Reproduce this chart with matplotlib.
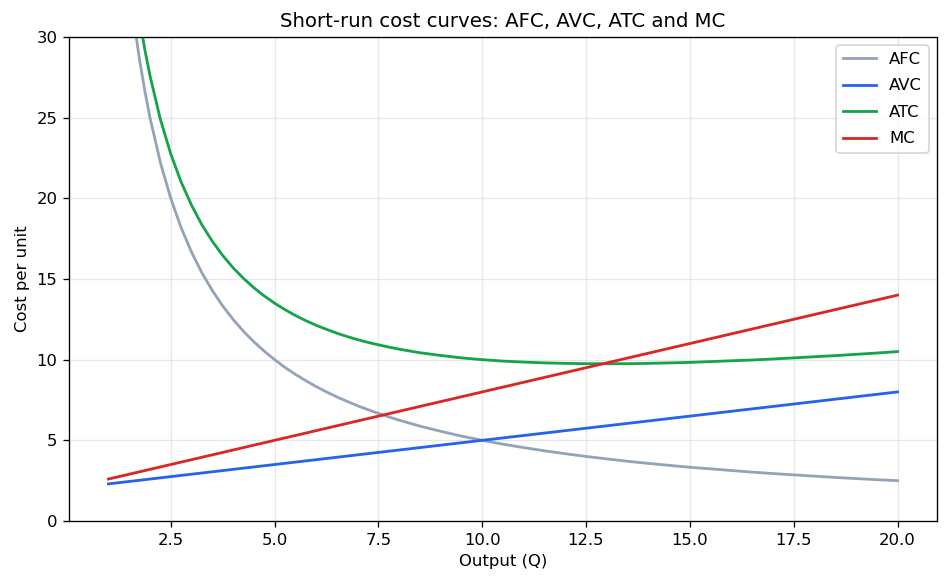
import matplotlib
matplotlib.use("Agg")
import matplotlib.pyplot as plt

Q = [1, 1.25, 1.5, 1.625, 1.75, 1.875, 2, 2.25, 2.5, 2.75, 3, 3.25, 3.5, 3.75, 4,
     4.25, 4.5, 4.75, 5, 5.25, 5.5, 5.75, 6, 6.25, 6.5, 6.75, 7, 7.25, 7.5, 7.75, 8,
     8.5, 9, 9.5, 10, 10.5, 11, 11.5, 12, 12.5, 13, 13.5, 14, 14.5, 15, 15.5, 16,
     16.5, 17, 17.5, 18, 18.5, 19, 19.5, 20]
AFC = [50, 40, 33.33, 30.77, 28.57, 26.67, 25, 22.22, 20, 18.18, 16.67, 15.38, 14.29,
       13.33, 12.5, 11.76, 11.11, 10.53, 10, 9.52, 9.09, 8.70, 8.33, 8.0, 7.69, 7.41,
       7.14, 6.90, 6.67, 6.45, 6.25,
       5.88, 5.56, 5.26, 5.0, 4.76, 4.55, 4.35, 4.17, 4.0, 3.85, 3.70, 3.57, 3.45, 3.33,
       3.23, 3.13, 3.03, 2.94, 2.86, 2.78, 2.70, 2.63, 2.56, 2.5]
AVC = [2.3, 2.375, 2.45, 2.4875, 2.525, 2.5625, 2.6, 2.675, 2.75, 2.825, 2.9, 2.975,
       3.05, 3.125, 3.2, 3.275, 3.35, 3.425, 3.5, 3.575, 3.65, 3.725, 3.8, 3.875, 3.95,
       4.025, 4.1, 4.175, 4.25, 4.325, 4.4,
       4.55, 4.7, 4.85, 5.0, 5.15, 5.3, 5.45, 5.6, 5.75, 5.9, 6.05, 6.2, 6.35, 6.5,
       6.65, 6.8, 6.95, 7.1, 7.25, 7.4, 7.55, 7.7, 7.85, 8.0]
ATC = [52.3, 42.38, 35.78, 33.26, 31.10, 29.23, 27.6, 24.90, 22.75, 21.01, 19.57,
       18.36, 17.34, 16.46, 15.7, 15.04, 14.46, 13.95, 13.5, 13.10, 12.74, 12.42,
       12.13, 11.88, 11.64, 11.43, 11.24, 11.07, 10.92, 10.78, 10.65,
       10.43, 10.26, 10.11, 10.0, 9.91, 9.85, 9.80, 9.77, 9.75, 9.75, 9.75, 9.77,
       9.80, 9.83, 9.88, 9.93, 9.98, 10.04, 10.11, 10.18, 10.25, 10.33, 10.41, 10.5]
MC = [2.6, 2.75, 2.9, 2.975, 3.05, 3.125, 3.2, 3.35, 3.5, 3.65, 3.8, 3.95, 4.1, 4.25,
      4.4, 4.55, 4.7, 4.85, 5.0, 5.15, 5.3, 5.45, 5.6, 5.75, 5.9, 6.05, 6.2, 6.35, 6.5,
      6.65, 6.8,
      7.1, 7.4, 7.7, 8.0, 8.3, 8.6, 8.9, 9.2, 9.5, 9.8, 10.1, 10.4, 10.7, 11.0, 11.3,
      11.6, 11.9, 12.2, 12.5, 12.8, 13.1, 13.4, 13.7, 14.0]

fig, ax = plt.subplots(figsize=(8, 4.957), dpi=118.625)
ax.plot(Q, AFC, color="#94a3b8", lw=1.7, label="AFC")
ax.plot(Q, AVC, color="#2563eb", lw=1.7, label="AVC")
ax.plot(Q, ATC, color="#16a34a", lw=1.7, label="ATC")
ax.plot(Q, MC, color="#dc2626", lw=1.7, label="MC")
ax.set_ylim(0, 30)
ax.set_xlim(0.05, 20.95)
ax.set_xlabel("Output (Q)")
ax.set_ylabel("Cost per unit")
ax.set_title("Short-run cost curves: AFC, AVC, ATC and MC", fontsize=12)
ax.grid(True, alpha=0.3)
ax.legend(loc="upper right", labelspacing=0.7)
fig.subplots_adjust(left=69/949, right=937/949, top=1-37/588, bottom=1-521/588)
fig.savefig("out.png", dpi=118.625)
